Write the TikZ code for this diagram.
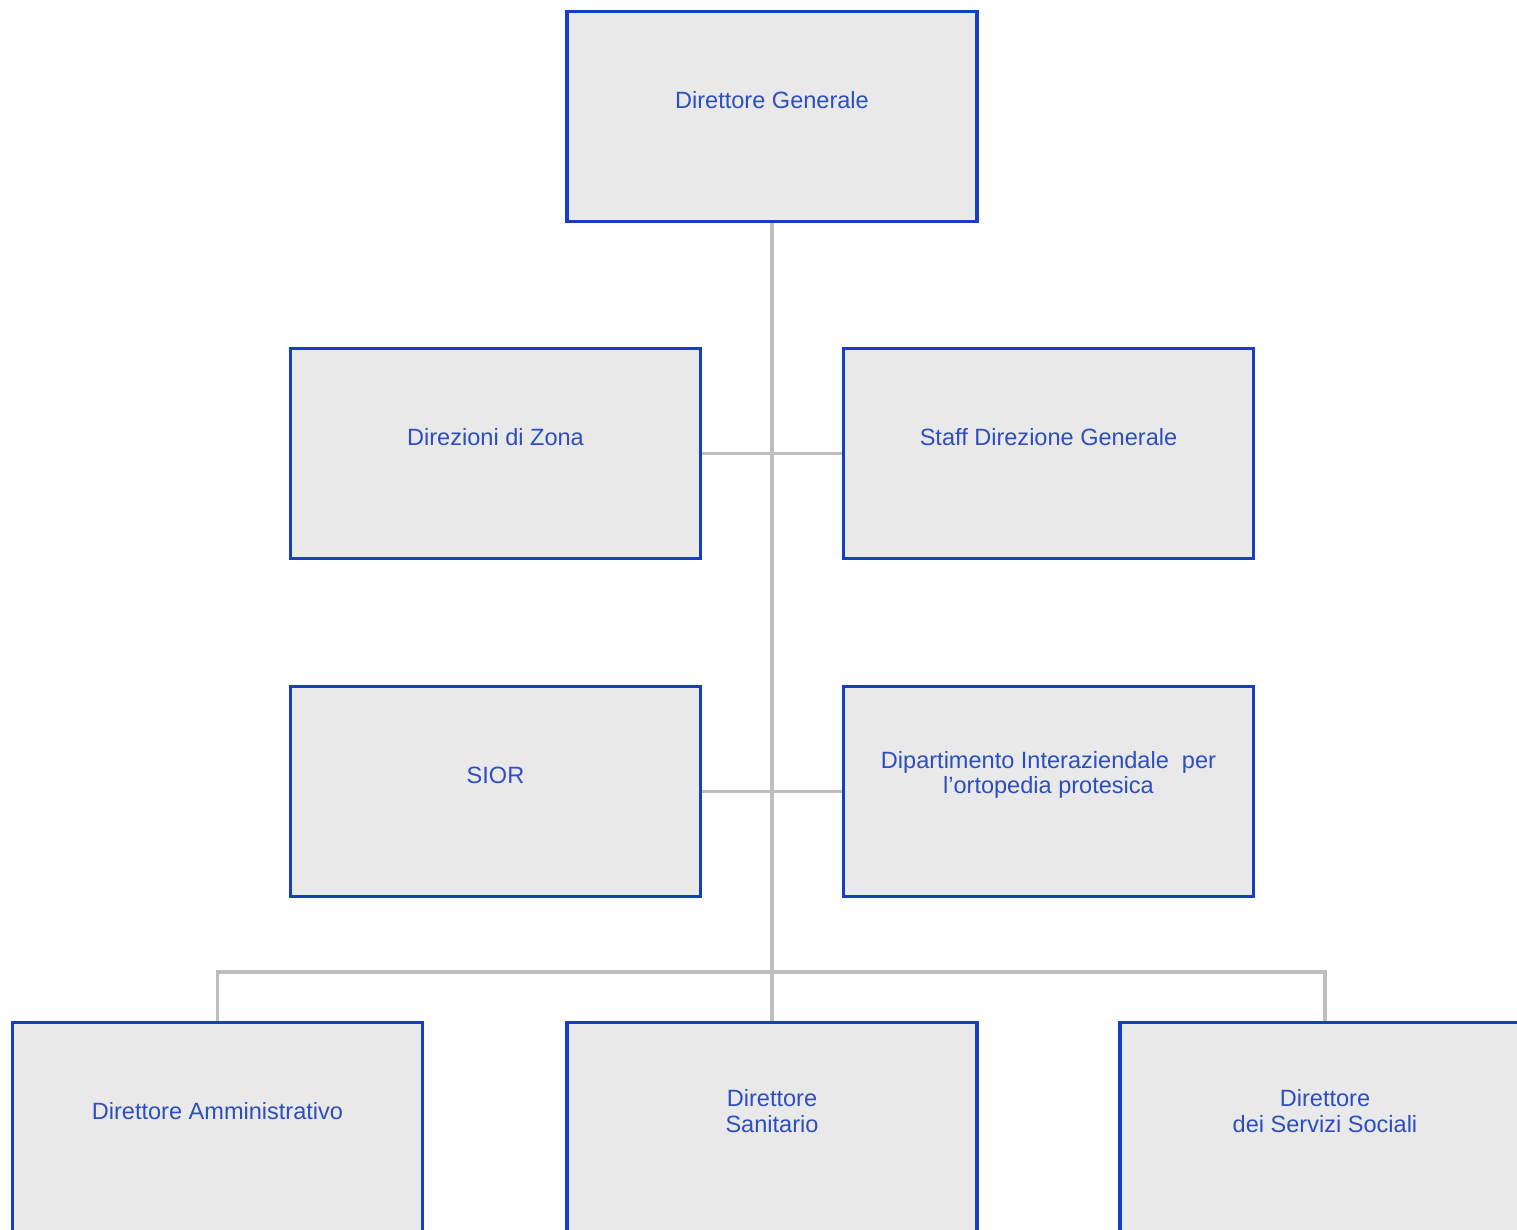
\documentclass[tikz,border=0pt]{standalone}
\usepackage{fontspec}
\setmainfont{Liberation Sans}
\usepackage{xcolor}
\usetikzlibrary{positioning}

\definecolor{boxblue}{RGB}{22,62,192}
\definecolor{txtblue}{RGB}{45,78,190}
\definecolor{boxfill}{RGB}{233,233,233}
\definecolor{linkgray}{RGB}{190,190,190}

\tikzset{
  unit/.style={draw=boxblue, fill=boxfill, line width=1.1pt, rectangle,
    minimum width=4.1cm, minimum height=2.1cm, inner sep=0pt},
  unitname/.style={text=txtblue, align=center, inner sep=0pt,
    font=\fontsize{6.7}{7.3}\selectfont, yshift=1.65mm},
  link/.style={draw=linkgray, line width=1.1pt}
}

\begin{document}
\begin{tikzpicture}
  \clip (0,0) rectangle (15.17,12.30);

  % top
  \node[unit] (dg) at (7.72,11.135) {};
  \node[unitname] (dgname) at (dg.center) {Direttore Generale};

  % staff rows
  \node[unit] (zona) at (4.955,7.765) {};
  \node[unitname] (zonaname) at (zona.center) {Direzioni di Zona};
  \node[unit] (staff) at (10.485,7.765) {};
  \node[unitname] (staffname) at (staff.center) {Staff Direzione Generale};

  \node[unit] (sior) at (4.955,4.385) {};
  \node[unitname] (siorname) at (sior.center) {SIOR};
  \node[unit] (dip) at (10.485,4.385) {};
  \node[unitname] (dipname) at (dip.center) {Dipartimento Interaziendale~ per\\l'ortopedia protesica};

  % directors
  \node[unit] (dirAmm) at (2.175,1.025) {};
  \node[unitname] (dirAmmname) at (dirAmm.center) {Direttore Amministrativo};
  \node[unit] (dirSan) at (7.72,1.025) {};
  \node[unitname] (dirSanname) at (dirSan.center) {Direttore\\Sanitario};
  \node[unit] (dirSoc) at (13.25,1.025) {};
  \node[unitname] (dirSocname) at (dirSoc.center) {Direttore\\dei Servizi Sociali};

  \coordinate (bus) at (7.72,2.58);

  % connectors
  \draw[link] (dg.south) -- (dirSan.north);
  \draw[link] (zona.east) -- (staff.west);
  \draw[link] (sior.east) -- (dip.west);
  \draw[link] (dirAmm.north) |- (bus) -| (dirSoc.north);
\end{tikzpicture}
\end{document}
